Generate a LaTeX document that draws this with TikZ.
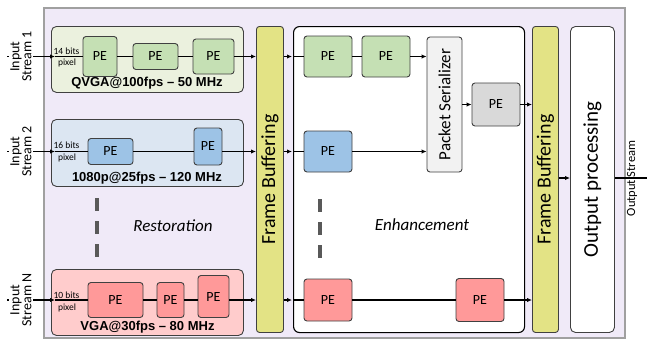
\documentclass[tikz,border=0pt]{standalone}
\usepackage{fontspec}
\setmainfont{Carlito}
\newfontfamily\arialf{Liberation Sans}
\usetikzlibrary{arrows.meta,calc}
\definecolor{lav}{RGB}{240,234,248}
\definecolor{lavb}{RGB}{160,160,160}
\definecolor{gA}{RGB}{235,241,222}
\definecolor{gB}{RGB}{197,224,180}
\definecolor{bA}{RGB}{220,230,242}
\definecolor{bB}{RGB}{157,195,230}
\definecolor{rA}{RGB}{255,204,204}
\definecolor{rB}{RGB}{255,153,153}
\definecolor{yel}{RGB}{227,227,133}
\definecolor{gp}{RGB}{217,217,217}
\definecolor{psc}{RGB}{242,242,242}
\definecolor{bord}{RGB}{64,64,64}
\definecolor{dashc}{RGB}{89,89,89}
\tikzset{
  pe/.style={draw=bord, line width=0.9pt, rounded corners=3pt, inner sep=0pt, font=\fontsize{14}{16}\selectfont},
  grp/.style={draw=bord, line width=0.9pt, rounded corners=5pt, inner sep=0pt, anchor=north west},
  conn/.style={line width=1.2pt},
  arr/.style={conn, -{Latex[length=5pt,width=4.5pt]}},
  dsh/.style={draw=dashc, line width=3.5pt, dash pattern=on 13pt off 10pt},
  bits/.style={font=\fontsize{9.5}{10}\selectfont, inner sep=0pt},
  rate/.style={font=\arialf\bfseries\fontsize{13}{14}\selectfont, inner sep=0pt},
  vtext/.style={rotate=90, inner sep=0pt},
  instream/.style={rotate=90, align=center, fill=white, inner sep=1pt, font=\fontsize{14}{12}\selectfont},
  stage/.style={font=\itshape\fontsize{17}{18}\selectfont, inner sep=0pt}
}
\begin{document}
\begin{tikzpicture}[x=1pt,y=-1pt]
\path[use as bounding box] (0,0) rectangle (647,341);
% outer
\node[draw=lavb, line width=1.6pt, fill=lav, anchor=north west, minimum width=581, minimum height=330, inner sep=0pt] (outer) at (43,7) {};
% stream groups
\node[grp, fill=gA, minimum width=192, minimum height=66] (S1) at (51,26) {};
\node[grp, fill=bA, minimum width=192, minimum height=67] (S2) at (51,119) {};
\node[grp, fill=rA, minimum width=192, minimum height=66] (SN) at (51,269) {};
% columns
\node[grp, fill=yel, rounded corners=3pt, minimum width=27, minimum height=306] (FB1) at (256,26) {};
\node[grp, fill=white, draw=black, line width=1.1pt, rounded corners=6pt, minimum width=231, minimum height=306] (ENH) at (293,26) {};
\node[grp, fill=yel, rounded corners=3pt, minimum width=26, minimum height=306] (FB2) at (532,26) {};
\node[grp, fill=white, rounded corners=5pt, minimum width=44, minimum height=306] (OP) at (570,26) {};
\node[vtext, font=\fontsize{20}{22}\selectfont] (fb1t) at (FB1.center) {Frame Buffering};
\node[vtext, font=\fontsize{20}{22}\selectfont] (fb2t) at (FB2.center) {Frame Buffering};
\node[vtext, font=\fontsize{21}{22}\selectfont] (opt) at (OP.center) {Output processing};
% PEs restoration
\node[pe, fill=gB, minimum width=34, minimum height=40] (s1a) at (100,56.5) {PE};
\node[pe, fill=gB, minimum width=45, minimum height=26] (s1b) at (155.5,56.5) {PE};
\node[pe, fill=gB, minimum width=41, minimum height=35] (s1c) at (213.5,56.5) {PE};
\node[pe, fill=bB, minimum width=45, minimum height=26] (s2a) at (110.5,151.5) {PE};
\node[pe, fill=bB, minimum width=28, minimum height=37] (s2b) at (208,146.5) {PE};
\node[pe, fill=rB, minimum width=55, minimum height=35] (sNa) at (115.5,300) {PE};
\node[pe, fill=rB, minimum width=27, minimum height=35] (sNb) at (170.5,300) {PE};
\node[pe, fill=rB, minimum width=31, minimum height=42] (sNc) at (213.5,296.5) {PE};
% PEs enhancement
\node[pe, fill=gB, minimum width=48, minimum height=41] (e1a) at (328,56.5) {PE};
\node[pe, fill=gB, minimum width=48, minimum height=41] (e1b) at (386,56.5) {PE};
\node[pe, fill=psc, minimum width=35, minimum height=135] (ps) at (444.5,104.5) {};
\node[vtext, font=\fontsize{17}{18}\selectfont] (pst) at (ps.center) {Packet Serializer};
\node[pe, fill=gp, minimum width=48, minimum height=43] (gpe) at (496,104.5) {PE};
\node[pe, fill=bB, minimum width=48, minimum height=41] (e2a) at (328,151.5) {PE};
\node[pe, fill=rB, minimum width=48, minimum height=42] (eNa) at (328,300) {PE};
\node[pe, fill=rB, minimum width=48, minimum height=43] (eNb) at (480,300) {PE};
% labels
\node[bits] (b1a) at (66.5,51) {14 bits};
\node[bits] (b1b) at (67,63) {pixel};
\node[bits] (b2a) at (66.5,145) {16 bits};
\node[bits] (b2b) at (67,158) {pixel};
\node[bits] (bNa) at (66.5,295) {10 bits};
\node[bits] (bNb) at (67,308) {pixel};
\node[rate] (r1) at (147,83) {QVGA@100fps – 50 MHz};
\node[rate] (r2) at (147,178) {1080p@25fps – 120 MHz};
\node[rate] (rN) at (147.5,327) {VGA@30fps – 80 MHz};
\node[stage] (rest) at (173,226) {Restoration};
\node[stage] (enht) at (422,225) {Enhancement};
% dashed
\coordinate (d1a) at (97,198); \coordinate (d1b) at (97,257);
\coordinate (d2a) at (320,199); \coordinate (d2b) at (320,258);
\draw[dsh] (d1a) -- (d1b);
\draw[dsh] (d2a) -- (d2b);
% inputs
\coordinate (in1) at (7,56.5); \coordinate (t1) at (55,56.5);
\coordinate (in2) at (7,151.5); \coordinate (t2) at (55,151.5);
\coordinate (inN) at (7,300); \coordinate (tN) at (55,300);
\draw[arr] (in1) -- (t1); \draw[conn] (t1) -- (s1a.west);
\draw[arr] (in2) -- (t2); \draw[conn] (t2) -- (s2a.west);
\draw[arr] (inN) -- (tN); \draw[conn] (tN) -- (sNa.west);
\node[instream] (i1) at (21,56.5) {Input\\Stream 1};
\node[instream] (i2) at (21,151.5) {Input\\Stream 2};
\node[instream] (iN) at (21,300) {Input\\Stream N};
% stream 1
\draw[conn] (s1a.east) -- (s1b.west);
\draw[conn] (s1b.east) -- (s1c.west);
\draw[arr] (s1c.east) -- (s1c.east -| FB1.west);
\draw[arr] (FB1.east |- s1c.east) -- ($(ENH.west |- s1c.east)+(-1,0)$);
\draw[conn] (ENH.west |- e1a.west) -- (e1a.west);
\draw[conn] (e1a.east) -- (e1b.west);
\draw[arr] (e1b.east) -- (e1b.east -| ps.west);
\draw[arr] (ps.east |- gpe.west) -- (gpe.west);
\draw[arr] (gpe.east) -- (gpe.east -| FB2.west);
% stream 2
\draw[conn] (s2a.east) -- (s2a.east -| s2b.west);
\draw[arr] (s2a.east -| s2b.east) -- (s2a.east -| FB1.west);
\draw[arr] (FB1.east |- s2a.east) -- ($(ENH.west |- s2a.east)+(-1,0)$);
\draw[conn] (ENH.west |- e2a.west) -- (e2a.west);
\draw[arr] (e2a.east) -- (e2a.east -| ps.west);
% stream N
\draw[conn] (sNa.east) -- (sNb.west);
\draw[conn] (sNb.east) -- (sNb.east -| sNc.west);
\draw[arr] (sNb.east -| sNc.east) -- (sNb.east -| FB1.west);
\draw[arr] (FB1.east |- sNa.east) -- ($(ENH.west |- sNa.east)+(-1,0)$);
\draw[conn] (ENH.west |- eNa.west) -- (eNa.west);
\draw[conn] (eNa.east) -- (eNb.west);
\draw[arr] (eNb.east) -- (eNb.east -| FB2.west);
% output
\coordinate (oy) at (600,178);
\coordinate (out) at (647,178);
\draw[arr] (FB2.east |- oy) -- (OP.west |- oy);
\draw[conn] (OP.east |- oy) -- (out);
\node[vtext, font=\fontsize{12.5}{13}\selectfont] (ost) at (632,178.5) {Output Stream};
\end{tikzpicture}
\end{document}
